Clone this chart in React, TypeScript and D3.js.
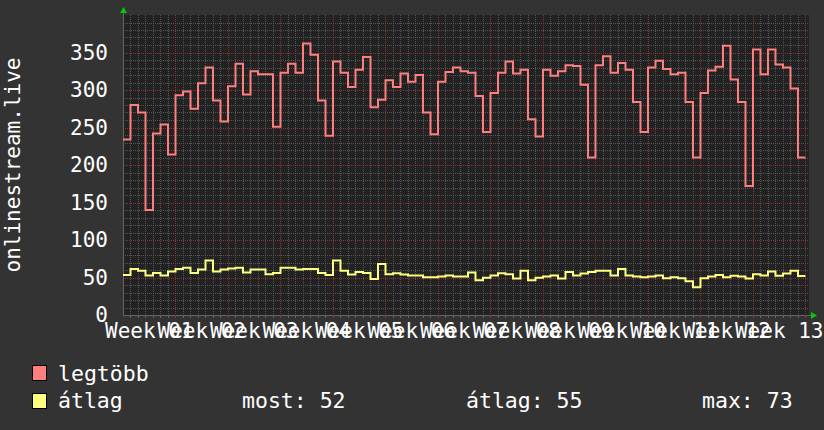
import React from "react";
import * as d3 from "d3";

const maxValues = [
  234, 280, 270, 140, 242, 254, 214, 293, 298, 275, 309, 330, 286, 258, 305, 335, 294, 325,
  321, 321, 251, 323, 335, 323, 362, 347, 286, 239, 338, 323, 304, 327, 344, 277, 287, 313,
  304, 322, 311, 320, 270, 241, 311, 324, 330, 325, 323, 292, 244, 296, 323, 338, 322, 327,
  261, 238, 327, 319, 325, 333, 332, 307, 210, 333, 345, 323, 336, 327, 284, 244, 330, 339,
  328, 321, 323, 284, 210, 296, 326, 331, 359, 314, 284, 172, 354, 321, 354, 334, 330, 302, 210,
];
const avgValues = [
  53.5, 61.5, 59, 52.7, 56, 52.7, 58, 61.5, 63, 56, 60.6, 72.6, 58, 60.6, 62, 63, 56.6, 60.6,
  60.6, 54.4, 56, 63, 63, 60.6, 61.5, 61.5, 56, 53.5, 72.6, 59, 54, 57.5, 56, 48, 68, 54.4,
  55.8, 54, 52.7, 52.7, 50.5, 50.5, 51.3, 52.7, 51.3, 51.3, 56.6, 46.5, 49.6, 52.7, 55.8, 54.4, 48.7, 59,
  46.5, 49.6, 51.3, 52.7, 48.7, 57.5, 52.7, 55.3, 57.5, 59, 59, 52.7, 61.5, 52.7, 51.3, 50.5, 51.3, 52.7,
  49, 50.5, 49, 45, 37, 49, 51.3, 53.5, 50.5, 52.2, 51.3, 48.7, 54.4, 52.7, 58, 52.2, 55.3, 59, 52,
];
const weekLabels = ["01", "02", "03", "04", "05", "06", "07", "08", "09", "10", "11", "12", "13"];
const yTicks = [0, 50, 100, 150, 200, 250, 300, 350];
const legendItems = ["legtöbb", "átlag"];
const legendStats = ["most: 52", "átlag: 55", "max: 73"];
const yTitle = "onlinestream.live";

const W = 824;
const H = 430;
const L = 123;
const R = 809;
const T = 15;
const B = 315;
const FONT = "'DejaVu Sans Mono', monospace";

export default function App() {
  const x = d3.scaleLinear().domain([0, 91.47]).range([L, R]);
  const y = d3.scaleLinear().domain([0, 400]).range([B, T]);

  const mk = (vals: number[]) => {
    const pts: [number, number][] = vals.map((v, i) => [i, v]);
    pts.push([vals.length, vals[vals.length - 1]]);
    return d3
      .line<[number, number]>()
      .x((d) => x(d[0]))
      .y((d) => y(d[1]))
      .curve(d3.curveStepAfter)(pts) as string;
  };

  const days = d3.range(0, 92);
  const minorY = d3.range(0, 401, 10).filter((v) => v % 50 !== 0);
  const majorY = d3.range(50, 400, 50);

  return (
    <svg
      width={W}
      height={H}
      style={{ position: "fixed", left: 0, top: 0, display: "block" }}
      fontFamily={FONT}
    >
      <rect x={0} y={0} width={W} height={H} fill="#333333" />
      <rect x={L} y={T} width={R - L} height={B - T} fill="#222222" />
      {/* minor grid */}
      <g stroke="#555555" strokeWidth={1} strokeDasharray="1,1">
        {days
          .filter((d) => d % 7 !== 0)
          .map((d) => (
            <line key={"vd" + d} x1={Math.round(x(d)) + 0.5} x2={Math.round(x(d)) + 0.5} y1={T} y2={B} />
          ))}
        {minorY.map((v) => (
          <line key={"hm" + v} x1={L} x2={R} y1={Math.round(y(v)) + 0.5} y2={Math.round(y(v)) + 0.5} />
        ))}
      </g>
      {/* major grid */}
      <g stroke="#8a3535" strokeWidth={1} strokeDasharray="1,1">
        {days
          .filter((d) => d % 7 === 0)
          .map((d) => (
            <line key={"vw" + d} x1={Math.round(x(d)) + 0.5} x2={Math.round(x(d)) + 0.5} y1={T} y2={B} />
          ))}
        {majorY.map((v) => (
          <line key={"hM" + v} x1={L} x2={R} y1={Math.round(y(v)) + 0.5} y2={Math.round(y(v)) + 0.5} />
        ))}
      </g>
      {/* axes */}
      <g stroke="#666666" strokeWidth={1}>
        <line x1={L} x2={R + 4} y1={B + 0.5} y2={B + 0.5} />
        <line x1={L + 0.5} x2={L + 0.5} y1={T - 4} y2={B} />
        {days.map((d) => (
          <line
            key={"tk" + d}
            x1={Math.round(x(d)) + 0.5}
            x2={Math.round(x(d)) + 0.5}
            y1={B}
            y2={B + 3}
            stroke={d % 7 === 0 ? "#8a3535" : "#666666"}
          />
        ))}
      </g>
      <path d={`M${L - 3},${T - 2} L${L + 4},${T - 2} L${L + 0.5},${T - 8} Z`} fill="#00cc00" />
      <path d={`M${R + 2},${B - 3} L${R + 2},${B + 4} L${R + 8},${B + 0.5} Z`} fill="#00cc00" />

      {/* data */}
      <path d={mk(maxValues)} fill="none" stroke="#ff7f7f" strokeWidth={2} />
      <path d={mk(avgValues)} fill="none" stroke="#ffff80" strokeWidth={2} />

      {/* y ticks */}
      <g fill="#ffffff" fontSize={21}>
        {yTicks.map((v) => (
          <text key={"yt" + v} x={108} y={y(v)} textAnchor="end" dominantBaseline="central">
            {v}
          </text>
        ))}
        {weekLabels.map((w, i) => (
          <text key={"wl" + w} x={x(i * 7 + 3.5)} y={338} textAnchor="middle">
            {"Week " + w}
          </text>
        ))}
        <text transform={`translate(20,${(T + B) / 2}) rotate(-90)`} textAnchor="middle">
          {yTitle}
        </text>
      </g>

      {/* legend */}
      <g fontSize={21.5} fill="#ffffff">
        <rect x={32.5} y={365.5} width={14} height={15} fill="#ff7f7f" stroke="#000" />
        <text x={58} y={381}>{legendItems[0]}</text>
        <rect x={32.5} y={393.5} width={14} height={15} fill="#ffff80" stroke="#000" />
        <text x={58} y={408}>{legendItems[1]}</text>
        <text x={242} y={408}>{legendStats[0]}</text>
        <text x={466} y={408}>{legendStats[1]}</text>
        <text x={702} y={408}>{legendStats[2]}</text>
      </g>
    </svg>
  );
}
